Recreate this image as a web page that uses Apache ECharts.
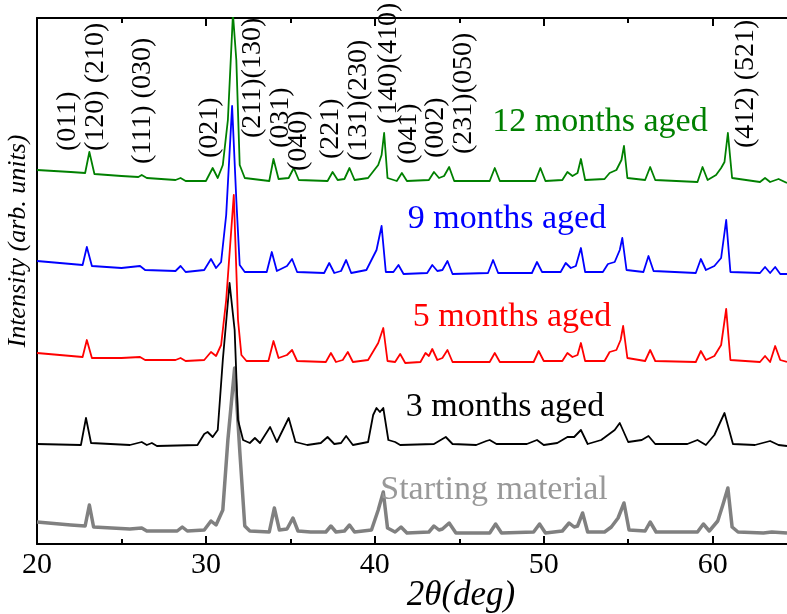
<!DOCTYPE html>
<html><head><meta charset="utf-8">
<script src="https://cdn.jsdelivr.net/npm/echarts@6/dist/echarts.min.js"></script>
<style>html,body{margin:0;padding:0;background:#fff}#c{width:787px;height:614px}</style>
</head><body><div id="c"></div>
<script>
// ---- data (2θ in degrees, intensity in arbitrary units; curves are vertically offset as in the figure) ----
const xMajorTicks = [20, 30, 40, 50, 60];
const xMinorTicks = [25, 35, 45, 55];
const seriesNames = ['Starting material', '3 months aged', '5 months aged', '9 months aged', '12 months aged'];

const startingMaterial = [[20,22],[22.0,19],[22.85,18],[23.1,39],[23.35,17],[25.5,15],[26.2,16],[26.5,13],[28.3,13],[28.6,17],[28.9,13],[29.9,14],[30.3,23],[30.6,19],[31.0,34],[31.3,104],[31.7,176],[32.0,94],[32.3,18],[32.6,13],[33.75,12],[34.05,36],[34.35,14],[34.8,15],[35.15,26],[35.45,13],[36.2,12],[37.1,12],[37.4,18],[37.7,12],[38.2,13],[38.5,19],[38.8,12],[39.8,14],[40.2,34],[40.5,52],[40.75,16],[41.2,12],[41.55,17],[41.9,11],[43.2,12],[43.5,18],[43.8,14],[44.0,15],[44.4,21],[44.8,11],[46.8,11],[47.15,20],[47.5,11],[49.4,12],[49.75,20],[50.1,11],[51.1,13],[51.5,21],[51.8,17],[52.0,18],[52.3,31],[52.6,12],[53.6,12],[54.0,17],[54.4,26],[54.75,41],[55.05,14],[56.0,13],[56.3,22],[56.65,12],[59.1,12],[59.45,20],[59.8,13],[60.3,23],[60.6,39],[60.9,56],[61.15,17],[61.5,12],[63.0,11],[63.5,12],[64.4,11]];

const aged3 = [[20,100],[22.6,99],[22.9,126],[23.2,101],[25.5,99],[26.2,102],[26.5,99],[26.8,101],[27.1,98],[29.5,99],[29.9,110],[30.1,112],[30.4,107],[30.7,114],[31.0,184],[31.4,261],[31.7,214],[31.9,124],[32.2,104],[32.6,101],[32.9,106],[33.2,101],[33.8,117],[34.2,102],[34.9,126],[35.3,102],[36.0,99],[36.4,100],[36.8,101],[37.2,107],[37.6,100],[38.0,101],[38.3,108],[38.7,99],[39.6,102],[39.9,129],[40.1,136],[40.3,132],[40.5,136],[40.8,104],[41.2,102],[41.5,99],[43.5,100],[44.0,105],[44.2,107],[44.6,100],[46.0,99],[46.6,103],[46.8,104],[47.2,100],[49.0,100],[49.6,104],[50.0,99],[50.8,101],[51.4,107],[51.8,107],[52.2,114],[52.6,100],[53.4,104],[53.8,109],[54.2,114],[54.5,121],[55.0,102],[55.8,104],[56.2,108],[56.6,100],[58.5,100],[59.1,104],[59.6,99],[60.1,109],[60.7,131],[61.2,100],[62.5,99],[63.4,103],[63.9,99],[64.4,98]];

const aged5 = [[20,191],[22.7,187],[22.95,204],[23.25,186],[25,186],[26.1,187],[26.4,184],[28.2,184],[28.5,186],[28.8,183],[29.9,184],[30.3,192],[30.6,188],[30.9,199],[31.2,244],[31.65,349],[31.9,224],[32.1,189],[32.4,183],[33.7,183],[34.0,203],[34.3,186],[34.8,189],[35.1,194],[35.4,183],[37.1,182],[37.4,191],[37.7,182],[38.1,184],[38.4,192],[38.7,182],[39.6,184],[40.2,201],[40.5,216],[40.75,183],[41.2,182],[41.5,190],[41.8,181],[42.7,182],[43.0,191],[43.2,188],[43.4,195],[43.7,184],[44.0,186],[44.3,194],[44.6,182],[46.8,182],[47.1,191],[47.4,182],[49.4,182],[49.7,193],[50.0,183],[51.1,183],[51.4,191],[51.7,187],[52.0,189],[52.2,201],[52.45,183],[53.6,183],[53.9,192],[54.3,194],[54.55,204],[54.7,218],[54.95,186],[56.0,183],[56.3,194],[56.6,183],[59.0,182],[59.3,193],[59.6,184],[60.1,188],[60.5,199],[60.8,235],[61.05,184],[62.8,182],[63.1,188],[63.4,182],[63.7,198],[64.0,184],[64.4,182]];

const aged9 = [[20,283],[22.7,279],[22.95,297],[23.25,278],[25,276],[26.1,278],[26.4,274],[28.2,273],[28.5,278],[28.8,272],[29.9,274],[30.3,285],[30.6,276],[30.9,282],[31.2,329],[31.55,438],[31.8,344],[32.0,279],[32.3,272],[33.6,272],[33.9,292],[34.2,273],[34.8,278],[35.1,285],[35.4,272],[37.0,271],[37.3,281],[37.6,271],[38.0,273],[38.3,284],[38.6,271],[39.5,274],[40.1,294],[40.4,318],[40.65,272],[41.1,272],[41.4,279],[41.7,270],[43.1,271],[43.4,279],[43.7,273],[44.0,274],[44.3,283],[44.6,270],[46.7,271],[47.0,284],[47.3,271],[49.3,271],[49.6,282],[49.9,272],[51.0,272],[51.3,281],[51.6,276],[51.9,278],[52.2,296],[52.45,272],[53.5,272],[53.8,280],[54.2,282],[54.5,294],[54.65,306],[54.9,274],[55.9,272],[56.2,288],[56.5,273],[59.0,271],[59.3,285],[59.6,274],[60.1,278],[60.5,286],[60.8,324],[61.05,272],[62.8,271],[63.1,277],[63.4,271],[63.7,277],[64.0,270],[64.4,270]];

const aged12 = [[20,374],[22,372],[22.85,371],[23.1,392],[23.4,370],[25,368],[26.0,367],[26.2,369],[26.5,366],[28.2,364],[28.5,366],[28.8,363],[30.0,363],[30.4,376],[30.7,366],[31.0,379],[31.3,424],[31.6,530],[31.8,484],[32.0,379],[32.3,366],[33.75,363],[34.0,385],[34.3,365],[34.9,366],[35.2,376],[35.5,364],[37.2,363],[37.5,372],[37.8,364],[38.2,365],[38.5,376],[38.8,364],[39.6,366],[40.2,379],[40.4,389],[40.55,411],[40.75,366],[41.3,363],[41.6,371],[41.9,363],[43.2,364],[43.5,372],[43.8,366],[44.1,368],[44.4,377],[44.7,363],[46.8,363],[47.1,376],[47.4,363],[49.5,363],[49.8,376],[50.1,363],[51.1,364],[51.4,372],[51.7,368],[52.0,371],[52.2,385],[52.45,364],[53.6,365],[53.9,371],[54.3,374],[54.6,384],[54.75,398],[54.95,366],[56.0,364],[56.3,377],[56.6,364],[59.1,362],[59.4,377],[59.7,364],[60.2,369],[60.5,376],[60.7,382],[60.9,411],[61.15,366],[62.8,362],[63.1,366],[63.4,362],[63.9,365],[64.4,361]];

const millerLabels = ['(011)','(120) (210)','(111) (030)','(021)','(211)(130)','(031)','(040)','(221)','(131)(230)','(140)(410)','(041)','(002)','(231)(050)','(412) (521)'];
const millerAt2theta = [21.83, 23.48, 26.25, 30.2, 32.74, 34.45, 35.5, 37.4, 39.06, 40.83, 42.0, 43.6, 45.25, 61.95];

// ---- layout / style (not data) ----
const millerBottomPx = [151, 151, 164, 158, 138, 148, 171, 159, 161, 124, 164, 158, 154, 148];
const colors = ['#808080', '#000000', '#ff0000', '#0000ff', '#008000'];
const widths = [3.5, 1.8, 1.8, 1.8, 1.8];
const seriesData = [startingMaterial, aged3, aged5, aged9, aged12];
const nameStyle = [
  {x: 494, y: 490, color: '#999999'},
  {x: 505, y: 407, color: '#000000'},
  {x: 512, y: 317, color: '#ff0000'},
  {x: 507, y: 219, color: '#0000ff'},
  {x: 600, y: 122, color: '#008000'}
];
const FONT = '"Liberation Serif", "Times New Roman", serif';

const chart = echarts.init(document.getElementById('c'), null, {renderer: 'canvas'});

function xAxisDef(pos, major, showLine, showLabel) {
  return {
    type: 'value', min: 20, max: 64.4, interval: 5, position: pos,
    axisLine: {show: showLine, onZero: false, lineStyle: {color: '#000', width: 2}},
    axisTick: {show: true, inside: true, length: major ? 8 : 5,
      customValues: major ? xMajorTicks : xMinorTicks,
      lineStyle: {color: '#000', width: 2}},
    axisLabel: {show: showLabel, customValues: xMajorTicks, fontFamily: FONT, fontSize: 30, color: '#000', margin: 6},
    splitLine: {show: false}
  };
}

chart.setOption({
  animation: false,
  backgroundColor: '#fff',
  grid: {left: 37, top: 18, right: 0, bottom: 70, containLabel: false},
  xAxis: [
    xAxisDef('bottom', true, true, true),
    xAxisDef('bottom', false, false, false),
    xAxisDef('top', true, true, false),
    xAxisDef('top', false, false, false)
  ],
  yAxis: {
    type: 'value', min: 0, max: 526,
    axisLine: {show: true, lineStyle: {color: '#000', width: 2}},
    axisTick: {show: false}, axisLabel: {show: false}, splitLine: {show: false}
  },
  series: seriesData.map((d, i) => ({
    name: seriesNames[i], type: 'line', data: d, xAxisIndex: 0,
    showSymbol: false, symbol: 'none', clip: true,
    lineStyle: {color: colors[i], width: widths[i], join: 'round'},
    z: 2 + i
  }))
});

const graphics = [];
millerLabels.forEach((t, i) => {
  const px = chart.convertToPixel({xAxisIndex: 0}, millerAt2theta[i]);
  graphics.push({
    type: 'text', x: px, y: millerBottomPx[i], rotation: Math.PI / 2, z: 20,
    style: {text: t, fontFamily: FONT, fontSize: 28, fill: '#000', align: 'left', verticalAlign: 'middle'}
  });
});
seriesNames.forEach((n, i) => {
  graphics.push({
    type: 'text', x: nameStyle[i].x, y: nameStyle[i].y, z: 20,
    style: {text: n, fontFamily: FONT, fontSize: 34, fill: nameStyle[i].color, align: 'center', verticalAlign: 'middle'}
  });
});
graphics.push({
  type: 'text', x: 18, y: 241, rotation: Math.PI / 2, z: 20,
  style: {text: 'Intensity (arb. units)', fontFamily: FONT, fontStyle: 'italic', fontSize: 26, fill: '#000', align: 'center', verticalAlign: 'middle'}
});
graphics.push({
  type: 'text', x: 461, y: 596, z: 20,
  style: {text: '2θ(deg)', fontFamily: FONT, fontStyle: 'italic', fontSize: 35, fill: '#000', align: 'center', verticalAlign: 'middle'}
});
chart.setOption({graphic: graphics});
</script>
</body></html>
